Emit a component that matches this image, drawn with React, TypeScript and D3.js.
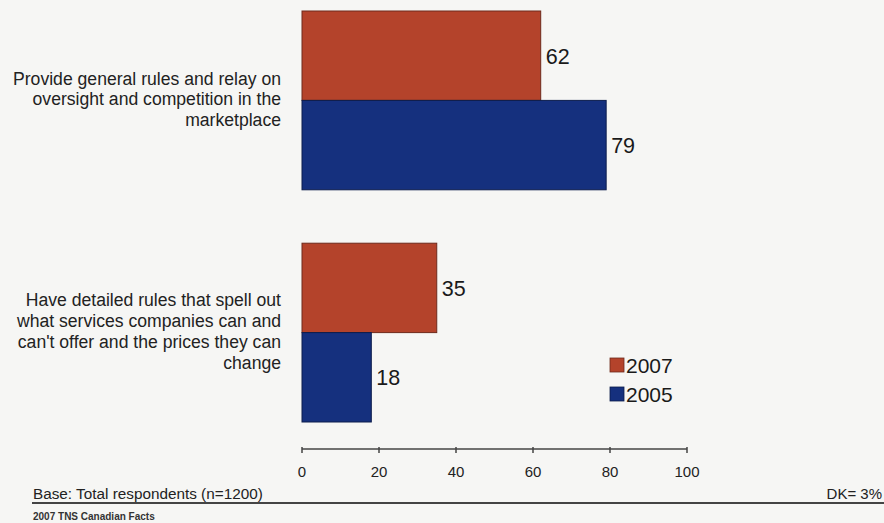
import React from "react";
import * as d3 from "d3";

const categories: string[][] = [
  ["Provide general rules and relay on", "oversight and competition in the", "marketplace"],
  [
    "Have detailed rules that spell out",
    "what services companies can and",
    "can't offer and the prices they can",
    "change",
  ],
];
const seriesNames = ["2007", "2005"];
const values2007 = [62, 35];
const values2005 = [79, 18];
const xTicks = [0, 20, 40, 60, 80, 100];

const colors: Record<string, string> = { "2007": "#B4432B", "2005": "#15307E" };
const strokes: Record<string, string> = { "2007": "#6e2a1c", "2005": "#0c1c4c" };

const W = 884;
const H = 523;
const FONT = "Arial, 'Liberation Sans', Helvetica, sans-serif";

export default function App() {
  const x = d3.scaleLinear().domain([0, 100]).range([302, 687]);
  const groupIds = categories.map((_, i) => String(i));
  const y = d3.scaleBand<string>().domain(groupIds).range([11, 422]).paddingInner(0.23).paddingOuter(0);
  const inner = d3.scaleBand<string>().domain(seriesNames).range([0, y.bandwidth()]).padding(0);
  const seriesValues: Record<string, number[]> = { "2007": values2007, "2005": values2005 };
  const axisY = 449;
  const lh = 20.8;

  return (
    <svg
      width={W}
      height={H}
      style={{ position: "absolute", left: 0, top: 0, background: "#F6F6F4" }}
      fontFamily={FONT}
    >
      <rect x={0} y={0} width={W} height={H} fill="#F6F6F4" />

      {groupIds.map((g, gi) => {
        const cy = (y(g) ?? 0) + y.bandwidth() / 2;
        const lines = categories[gi];
        const first = cy - ((lines.length - 1) / 2) * lh + 5;
        return (
          <g key={g}>
            <text textAnchor="end" fontSize={17.6} fill="#222">
              {lines.map((l, li) => (
                <tspan key={li} x={281} y={first + li * lh}>
                  {l}
                </tspan>
              ))}
            </text>
            {seriesNames.map((s) => {
              const v = seriesValues[s][gi];
              const by = (y(g) ?? 0) + (inner(s) ?? 0);
              const bh = inner.bandwidth();
              return (
                <g key={s}>
                  <rect
                    x={x(0)}
                    y={by}
                    width={x(v) - x(0)}
                    height={bh}
                    fill={colors[s]}
                    stroke={strokes[s]}
                    strokeWidth={1}
                  />
                  <text x={x(v) + 5} y={by + bh / 2 + 8} fontSize={21.5} fill="#1a1a1a">
                    {v}
                  </text>
                </g>
              );
            })}
          </g>
        );
      })}

      {/* x axis */}
      <g stroke="#444" strokeWidth={1.5}>
        <line x1={x(0)} x2={x(100)} y1={axisY} y2={axisY} />
        {xTicks.map((t) => (
          <line key={t} x1={x(t)} x2={x(t)} y1={axisY - 2} y2={axisY + 4} />
        ))}
      </g>
      {xTicks.map((t) => (
        <text key={t} x={x(t)} y={477} textAnchor="middle" fontSize={15} fill="#222">
          {t}
        </text>
      ))}

      {/* legend */}
      {seriesNames.map((s, i) => (
        <g key={s}>
          <rect x={610} y={358 + i * 29} width={14} height={14} fill={colors[s]} stroke={strokes[s]} strokeWidth={0.8} />
          <text x={626} y={373 + i * 29} fontSize={21} fill="#1a1a1a">
            {s}
          </text>
        </g>
      ))}

      {/* footer */}
      <text x={33} y={499} fontSize={15.3} fill="#222">
        Base: Total respondents (n=1200)
      </text>
      <text x={882} y={499} fontSize={15} fill="#222" textAnchor="end">
        DK= 3%
      </text>
      <line x1={32} x2={W} y1={503} y2={503} stroke="#444" strokeWidth={2} />
      <text x={33} y={520} fontSize={10} fontWeight="bold" fill="#333">
        2007 TNS Canadian Facts
      </text>
    </svg>
  );
}
